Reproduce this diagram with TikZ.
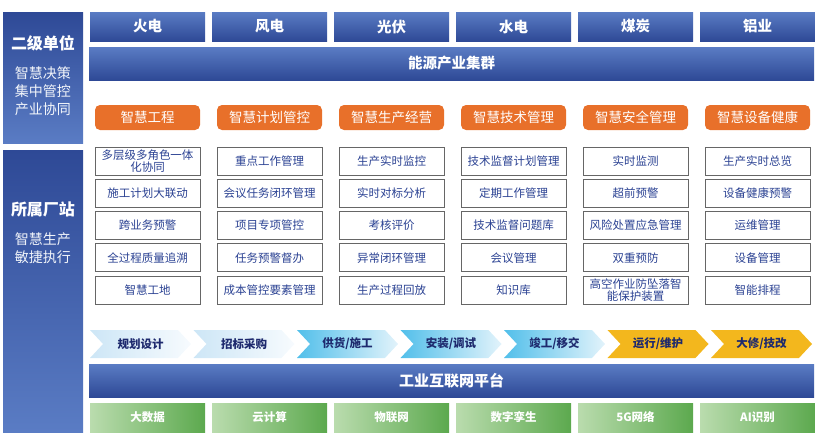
\documentclass[tikz,border=0pt]{standalone}
\usepackage{fontspec}
\setmainfont{Noto Sans CJK SC}
\usetikzlibrary{shapes.symbols}
\usepackage{xcolor}

\definecolor{blueL}{HTML}{5A7CC4}
\definecolor{blueD}{HTML}{2E4996}
\definecolor{orangeH}{HTML}{E8702A}
\definecolor{navyT}{HTML}{2B4293}
\definecolor{greenL}{HTML}{BADCAE}
\definecolor{greenD}{HTML}{5CA94E}
\definecolor{skyL}{HTML}{CDE6F6}
\definecolor{skyW}{HTML}{F7FBFE}
\definecolor{cyanD}{HTML}{52BFEA}
\definecolor{cyanW}{HTML}{E2F3FB}
\definecolor{amber}{HTML}{F3B71D}
\definecolor{stageT}{HTML}{1E2A6E}

\begin{document}
\begin{tikzpicture}[
    x=1pt, y=-1pt,
    every node/.style={inner sep=1pt, font=\fontsize{11.5}{12}\selectfont},
    panel/.style={rectangle, top color=blueD, bottom color=blueL, minimum width=80pt},
    paneltitle/.style={text=white, font=\fontsize{16}{18}\bfseries\selectfont},
    panelsub/.style={text=white!92!blueL, align=center, font=\fontsize{14}{18}\selectfont},
    sector/.style={rectangle, top color=blueL, bottom color=blueD, text=white, minimum width=115pt, minimum height=29pt, font=\fontsize{14.5}{16}\bfseries\selectfont},
    band/.style={rectangle, top color=blueL, bottom color=blueD, text=white, minimum width=725pt, minimum height=33pt, font=\fontsize{14.5}{16}\bfseries\selectfont},
    header/.style={rectangle, rounded corners=5pt, fill=orangeH, text=white, minimum width=105pt, minimum height=25pt, font=\fontsize{13.5}{15}\selectfont},
    func/.style={rectangle, draw=black!60, line width=0.9pt, fill=white, text=navyT, align=center, minimum width=105pt, minimum height=28pt, inner sep=1pt, font=\fontsize{11.5}{11.5}\selectfont},
    stage/.style={signal, signal to=east, signal from=west, signal pointer angle=94, minimum width=101pt, minimum height=28pt, inner sep=0pt, text=stageT, font=\fontsize{11.5}{12}\bfseries\selectfont},
    early/.style={stage, left color=skyL, right color=skyW},
    build/.style={stage, left color=cyanD, right color=cyanW},
    oper/.style={stage, fill=amber},
    tech/.style={rectangle, left color=greenL, right color=greenD, text=white, minimum width=115pt, minimum height=29pt, font=\fontsize{11.5}{12}\bfseries\selectfont}
]
\useasboundingbox (0,0) rectangle (815,439);

% Left panels
\node[panel, minimum height=131pt] (unit) at (43,77.5) {};
\node[paneltitle] (unittitle) at (43,43) {二级单位};
\node[panelsub] (unitsub) at (43,91) {智慧决策\\集中管控\\产业协同};
\node[panel, minimum height=282pt] (plant) at (43,291) {};
\node[paneltitle] (planttitle) at (43,209) {所属厂站};
\node[panelsub] (plantsub) at (43,248) {智慧生产\\敏捷执行};

% Sectors
\node[sector] (fire) at (147.5,26.5) {火电};
\node[sector] (wind) at (269.5,26.5) {风电};
\node[sector] (solar) at (391.5,26.5) {光伏};
\node[sector] (hydro) at (513.5,26.5) {水电};
\node[sector] (coal) at (635.5,26.5) {煤炭};
\node[sector] (alum) at (757.5,26.5) {铝业};
\node[band] (cluster) at (451.5,63.5) {能源产业集群};

% Application headers
\node[header] (heng) at (147.5,117.5) {智慧工程};
\node[header] (hplan) at (269.5,117.5) {智慧计划管控};
\node[header] (hprod) at (391.5,117.5) {智慧生产经营};
\node[header] (htech) at (513.5,117.5) {智慧技术管理};
\node[header] (hsafe) at (635.5,117.5) {智慧安全管理};
\node[header] (hequip) at (757.5,117.5) {智慧设备健康};

% Column 1 - engineering
\node[func] (eng1) at (147.5,161) {多层级多角色一体\\化协同};
\node[func] (eng2) at (147.5,193.3) {施工计划大联动};
\node[func] (eng3) at (147.5,225.6) {跨业务预警};
\node[func] (eng4) at (147.5,257.9) {全过程质量追溯};
\node[func] (eng5) at (147.5,290.2) {智慧工地};

% Column 2 - planning
\node[func] (plan1) at (269.5,161) {重点工作管理};
\node[func] (plan2) at (269.5,193.3) {会议任务闭环管理};
\node[func] (plan3) at (269.5,225.6) {项目专项管控};
\node[func] (plan4) at (269.5,257.9) {任务预警督办};
\node[func] (plan5) at (269.5,290.2) {成本管控要素管理};

% Column 3 - production
\node[func] (prod1) at (391.5,161) {生产实时监控};
\node[func] (prod2) at (391.5,193.3) {实时对标分析};
\node[func] (prod3) at (391.5,225.6) {考核评价};
\node[func] (prod4) at (391.5,257.9) {异常闭环管理};
\node[func] (prod5) at (391.5,290.2) {生产过程回放};

% Column 4 - technology
\node[func] (tech1) at (513.5,161) {技术监督计划管理};
\node[func] (tech2) at (513.5,193.3) {定期工作管理};
\node[func] (tech3) at (513.5,225.6) {技术监督问题库};
\node[func] (tech4) at (513.5,257.9) {会议管理};
\node[func] (tech5) at (513.5,290.2) {知识库};

% Column 5 - safety
\node[func] (safe1) at (635.5,161) {实时监测};
\node[func] (safe2) at (635.5,193.3) {超前预警};
\node[func] (safe3) at (635.5,225.6) {风险处置应急管理};
\node[func] (safe4) at (635.5,257.9) {双重预防};
\node[func] (safe5) at (635.5,290.2) {高空作业防坠落智\\能保护装置};

% Column 6 - equipment
\node[func] (equip1) at (757.5,161) {生产实时总览};
\node[func] (equip2) at (757.5,193.3) {设备健康预警};
\node[func] (equip3) at (757.5,225.6) {运维管理};
\node[func] (equip4) at (757.5,257.9) {设备管理};
\node[func] (equip5) at (757.5,290.2) {智能排程};

% Life-cycle stages
\node[early] (stage1) at (140.5,344) {规划设计};
\node[early] (stage2) at (244,344) {招标采购};
\node[build] (stage3) at (347.5,344) {供货/施工};
\node[build] (stage4) at (451,344) {安装/调试};
\node[build] (stage5) at (554.5,344) {竣工/移交};
\node[oper] (stage6) at (658,344) {运行/维护};
\node[oper] (stage7) at (761.5,344) {大修/技改};

% Platform and base technologies
\node[band, font=\fontsize{15}{17}\bfseries\selectfont] (platform) at (451.5,380.5) {工业互联网平台};
\node[tech] (bigdata) at (147.5,417.5) {大数据};
\node[tech] (cloud) at (269.5,417.5) {云计算};
\node[tech] (iot) at (391.5,417.5) {物联网};
\node[tech] (twin) at (513.5,417.5) {数字孪生};
\node[tech] (fiveg) at (635.5,417.5) {5G网络};
\node[tech] (aiid) at (757.5,417.5) {AI识别};

\end{tikzpicture}
\end{document}
